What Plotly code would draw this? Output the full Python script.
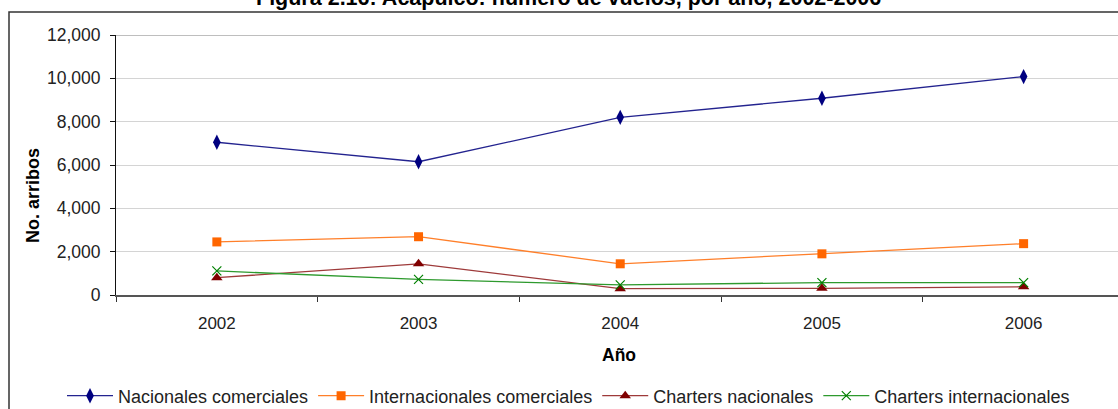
import plotly.graph_objects as go

years = ["2002", "2003", "2004", "2005", "2006"]
nacionales_comerciales = [7050, 6150, 8200, 9080, 10080]
internacionales_comerciales = [2450, 2690, 1440, 1900, 2370]
charters_nacionales = [800, 1440, 290, 310, 380]
charters_internacionales = [1110, 720, 470, 570, 570]
y_ticks = [0, 2000, 4000, 6000, 8000, 10000, 12000]
y_tick_labels = ["0", "2,000", "4,000", "6,000", "8,000", "10,000", "12,000"]

W, H = 1118, 409
L, T, B = 116, 35, 114
PW = W - L
PH = H - T - B

def px_x(p):
    return (p - L) / PW

def px_y(p):
    return (H - B - p) / PH

FONT = "Liberation Sans, Arial, sans-serif"

fig = go.Figure()
fig.add_trace(go.Scatter(
    x=years, y=nacionales_comerciales, name="Nacionales comerciales",
    mode="lines+markers",
    line=dict(color="#23238f", width=1.3),
    marker=dict(symbol="diamond-tall", color="#000080", size=11),
))
fig.add_trace(go.Scatter(
    x=years, y=internacionales_comerciales, name="Internacionales comerciales",
    mode="lines+markers",
    line=dict(color="#ff7f2a", width=1.3),
    marker=dict(symbol="square", color="#ff6600", size=9),
))
fig.add_trace(go.Scatter(
    x=years, y=charters_nacionales, name="Charters nacionales",
    mode="lines+markers",
    line=dict(color="#9e3a3a", width=1.3),
    marker=dict(symbol="triangle-up", color="#800000", size=10),
))
fig.add_trace(go.Scatter(
    x=years, y=charters_internacionales, name="Charters internacionales",
    mode="lines+markers",
    line=dict(color="#2e9a2e", width=1.3),
    marker=dict(symbol="x-thin", color="#008000", size=9,
                line=dict(color="#008000", width=1.2)),
))

fig.update_layout(
    width=W, height=H,
    margin=dict(l=L, r=0, t=T, b=B, pad=0, autoexpand=False),
    paper_bgcolor="white", plot_bgcolor="white",
    font=dict(family=FONT, size=17, color="#222222"),
    showlegend=True,
    legend=dict(
        orientation="h", x=px_x(62), y=px_y(396),
        xanchor="left", yanchor="middle",
        font=dict(family=FONT, size=18, color="#222222"),
        itemwidth=46, bgcolor="rgba(0,0,0,0)",
    ),
    xaxis=dict(
        type="category", categoryorder="array", categoryarray=years,
        range=[-0.5, 4.468],
        showgrid=False, zeroline=False,
        showline=True, linecolor="#555555", linewidth=2,
        ticks="outside", ticklen=5, tickcolor="#333333", tickwidth=1,
        tickson="boundaries", ticklabelstandoff=12,
        tickfont=dict(family=FONT, size=17, color="#222222"),
    ),
    yaxis=dict(
        range=[0, 12000], tickvals=y_ticks, ticktext=y_tick_labels,
        showgrid=True, gridcolor="#d4d4d4", gridwidth=1,
        zeroline=False,
        showline=True, linecolor="#111111", linewidth=1,
        ticks="outside", ticklen=5, tickcolor="#111111",
        ticklabelstandoff=6,
        tickfont=dict(family=FONT, size=17.5, color="#222222"),
    ),
)

# top border of plot area
fig.add_shape(type="line", xref="paper", yref="y", x0=0, x1=1, y0=12000, y1=12000,
              line=dict(color="#a8a8a8", width=1.5), layer="below")
# outer chart border
fig.add_shape(type="rect", xref="paper", yref="paper",
              x0=px_x(9), x1=px_x(1140), y0=px_y(440), y1=px_y(12),
              line=dict(color="#333333", width=1.5), layer="above")

fig.add_annotation(text="<b>Figura 2.16: Acapulco: número de vuelos, por año, 2002-2006</b>",
                   xref="paper", yref="paper", x=px_x(568), y=px_y(-2),
                   xanchor="center", yanchor="middle", showarrow=False,
                   font=dict(family=FONT, size=21.5, color="#000000"))
fig.add_annotation(text="<b>No. arribos</b>", xref="paper", yref="paper",
                   x=px_x(33), y=px_y(196), xanchor="center", yanchor="middle",
                   textangle=-90, showarrow=False,
                   font=dict(family=FONT, size=18, color="#000000"))
fig.add_annotation(text="<b>Año</b>", xref="paper", yref="paper",
                   x=px_x(619), y=px_y(355), xanchor="center", yanchor="middle",
                   showarrow=False,
                   font=dict(family=FONT, size=17.5, color="#000000"))

fig.write_html(
    "out.html",
    config={"displayModeBar": False},
    post_script="document.body.style.margin='0';document.body.style.overflow='hidden';",
)
